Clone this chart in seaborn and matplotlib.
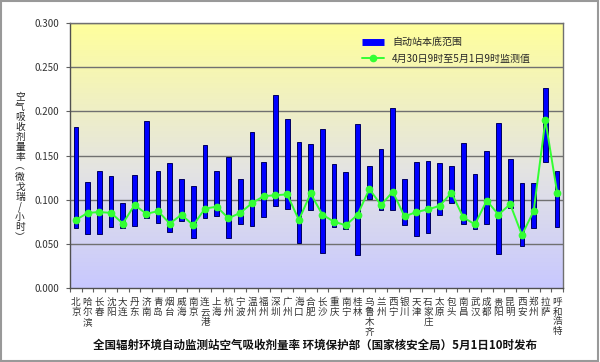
import numpy as np
import pandas as pd
import seaborn as sns
import matplotlib
matplotlib.use("Agg")
import matplotlib.pyplot as plt
from matplotlib.colors import LinearSegmentedColormap
from matplotlib.lines import Line2D
from matplotlib.patches import Rectangle
from matplotlib.ticker import FixedLocator, StrMethodFormatter

# 42 monitoring stations, left to right
cities = ["北京", "哈尔滨", "长春", "沈阳", "大连", "丹东", "济南", "青岛", "烟台", "威海",
          "南京", "连云港", "上海", "杭州", "宁波", "温州", "福州", "深圳", "广州", "海口",
          "合肥", "长沙", "重庆", "南宁", "桂林", "乌鲁木齐", "兰州", "西宁", "银川", "天津",
          "石家庄", "太原", "包头", "南昌", "武汉", "成都", "贵阳", "昆明", "西安", "郑州",
          "拉萨", "呼和浩特"]

# background range of each station (top / bottom of the bar)
range_top = [0.182, 0.120, 0.133, 0.127, 0.096, 0.128, 0.189, 0.132, 0.142, 0.123,
             0.116, 0.162, 0.133, 0.148, 0.123, 0.177, 0.143, 0.218, 0.191, 0.165,
             0.163, 0.180, 0.140, 0.131, 0.186, 0.138, 0.157, 0.204, 0.123, 0.143,
             0.144, 0.142, 0.138, 0.164, 0.129, 0.155, 0.187, 0.146, 0.119, 0.119,
             0.226, 0.133]
range_bottom = [0.068, 0.061, 0.061, 0.069, 0.068, 0.070, 0.079, 0.074, 0.063, 0.076,
                0.057, 0.079, 0.082, 0.057, 0.073, 0.070, 0.080, 0.093, 0.090, 0.051,
                0.088, 0.040, 0.069, 0.067, 0.037, 0.101, 0.088, 0.088, 0.071, 0.059,
                0.062, 0.083, 0.096, 0.073, 0.067, 0.073, 0.039, 0.091, 0.047, 0.068,
                0.143, 0.069]

# measured value 4/30 9:00 - 5/1 9:00
measured = [0.077, 0.085, 0.086, 0.085, 0.073, 0.094, 0.084, 0.087, 0.073, 0.083,
            0.071, 0.090, 0.092, 0.079, 0.085, 0.096, 0.104, 0.105, 0.106, 0.077,
            0.107, 0.083, 0.075, 0.071, 0.083, 0.112, 0.094, 0.109, 0.081, 0.086,
            0.089, 0.093, 0.108, 0.080, 0.072, 0.099, 0.083, 0.095, 0.060, 0.087,
            0.190, 0.108]

y_ticks = [0.000, 0.050, 0.100, 0.150, 0.200, 0.250, 0.300]

df = pd.DataFrame({
    "city": cities,
    "bottom": range_bottom,
    "span": np.array(range_top) - np.array(range_bottom),
    "value": measured,
})

sns.set_theme(style="white")
plt.rcParams["font.family"] = ["Noto Sans CJK SC", "DejaVu Sans"]

fig = plt.figure(figsize=(6, 3.62), dpi=100)
ax = fig.add_axes([70 / 600, 1 - 288 / 362, 493 / 600, 265 / 362])

# gradient background: lavender at bottom, grey in middle, pale yellow on top
grad_cmap = LinearSegmentedColormap.from_list(
    "bg", [(0.0, "#c8c8ff"), (0.45, "#e4e4e2"), (1.0, "#ffff9c")])
grad = np.linspace(0, 1, 256).reshape(-1, 1)
ax.imshow(grad, cmap=grad_cmap, aspect="auto", origin="lower",
          extent=[0, 1, 0, 1], transform=ax.transAxes, zorder=0)

# floating range bars
sns.barplot(data=df, x="city", y="span", bottom=df["bottom"], color="#0000ff",
            saturation=1, width=0.4, edgecolor="#000060", linewidth=0.7,
            errorbar=None, ax=ax, zorder=3)

# measured values
sns.pointplot(data=df, x="city", y="value", color="#33ff33", markers="o",
              markersize=4.5, linewidth=1.4, errorbar=None, ax=ax, zorder=4)

ax.set_xlim(-0.5, len(cities) - 0.5)
ax.set_ylim(0, 0.3)
ax.set_aspect("auto")

for yv in y_ticks[1:]:
    ax.axhline(yv, color="#707070", lw=1.0, zorder=1)

ax.yaxis.set_major_locator(FixedLocator(y_ticks))
ax.yaxis.set_major_formatter(StrMethodFormatter("{x:.3f}"))
ax.tick_params(axis="y", left=True, length=3, width=0.8, color="#606060",
               labelsize=7, labelcolor="#333333", pad=5)

ax.set_xticks(range(len(cities)))
ax.set_xticklabels(["\n".join(c) for c in cities], fontsize=6.9,
                   linespacing=1.12, color="#333333")
ax.tick_params(axis="x", which="major", length=0, pad=7)
ax.xaxis.set_minor_locator(FixedLocator(np.arange(-0.5, len(cities), 1)))
ax.tick_params(axis="x", which="minor", bottom=True, length=3, width=0.8,
               color="#606060")
for lab in ax.get_xticklabels():
    lab.set_verticalalignment("top")

ax.set_xlabel("")
ax.set_ylabel("")
for side in ["left", "bottom", "right", "top"]:
    ax.spines[side].set_visible(True)
    ax.spines[side].set_color("#707070")
    ax.spines[side].set_linewidth(1.0)
ax.spines["left"].set_color("#505050")
ax.spines["bottom"].set_color("#505050")

handles = [
    Line2D([0], [0], color="#0000ff", lw=5, solid_capstyle="butt"),
    Line2D([0], [0], color="#33ff33", lw=1.4, marker="o", markersize=4.5),
]
leg = ax.legend(handles, ["自动站本底范围", "4月30日9时至5月1日9时监测值"],
                loc="upper right", bbox_to_anchor=(0.945, 0.966),
                borderaxespad=0, fontsize=7.2, frameon=True, fancybox=False,
                framealpha=0, edgecolor="#707070", handlelength=2.2,
                labelspacing=0.65, borderpad=0.5)
leg.get_frame().set_linewidth(0.8)
leg.set_zorder(6)

# vertical y-axis title, one character per line
ylab = "空气吸收剂量率︵微戈瑞/小时︶"
fig.text(20 / 600, 1 - 167 / 362, "\n".join(ylab), ha="center", va="center",
         fontsize=7, linespacing=1.0, color="#222222")

fig.text(315 / 600, 1 - 345 / 362,
         "全国辐射环境自动监测站空气吸收剂量率 环境保护部（国家核安全局）5月1日10时发布",
         ha="center", va="center", fontsize=8.3, fontweight="bold", color="#111111")

# outer frame
fig.patches.append(Rectangle((0.002, 0.003), 0.994, 0.994, transform=fig.transFigure,
                             fill=False, edgecolor="#999999", lw=1.5))

fig.savefig("out.png", dpi=100)
